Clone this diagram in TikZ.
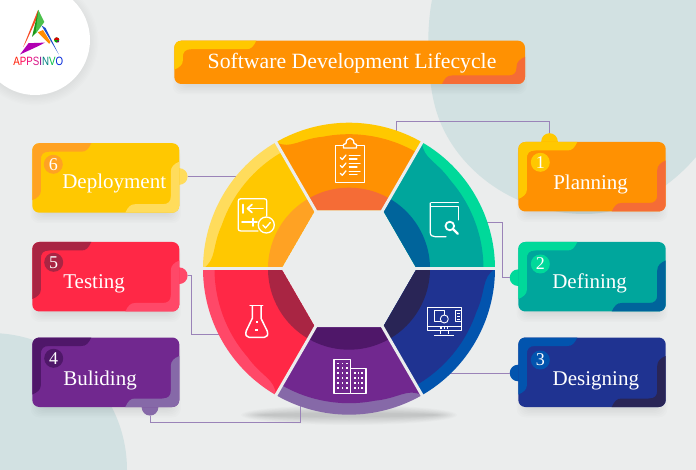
\documentclass[tikz,border=0pt]{standalone}
\usepackage{fontspec}
\setmainfont{Liberation Serif}
\newfontfamily\logofont{Liberation Sans}
\definecolor{bgc}{HTML}{EBEDED}
\definecolor{blobc}{HTML}{D2E1E2}
\definecolor{linkc}{HTML}{9A83B8}
\definecolor{orM}{HTML}{FF9102}\definecolor{orB}{HTML}{FFC800}\definecolor{orD}{HTML}{F56C36}
\definecolor{teM}{HTML}{00A69C}\definecolor{teB}{HTML}{00D99A}\definecolor{teD}{HTML}{00649B}
\definecolor{blM}{HTML}{1F3391}\definecolor{blB}{HTML}{0254AE}\definecolor{blD}{HTML}{292556}
\definecolor{puM}{HTML}{71288F}\definecolor{puB}{HTML}{8669A8}\definecolor{puD}{HTML}{4F1769}
\definecolor{reM}{HTML}{FF2846}\definecolor{reB}{HTML}{FF4868}\definecolor{reD}{HTML}{A92543}
\definecolor{yeM}{HTML}{FFC801}\definecolor{yeB}{HTML}{FFDC5C}\definecolor{yeD}{HTML}{FFA223}
\tikzset{
  link/.style={draw=linkc,line width=0.9pt},
  tabnode/.style={circle,inner sep=0pt,outer sep=0pt,minimum size=16.6pt},
  badge/.style={circle,inner sep=0pt,outer sep=0pt,minimum size=19pt,text=white,font=\fontsize{18}{18}\selectfont},
  cardtext/.style={anchor=base west,inner sep=0pt,outer sep=0pt,text=white,font=\fontsize{21}{21}\selectfont},
  cardbody/.style={anchor=north west,inner sep=0pt,outer sep=0pt,rounded corners=7pt},
  icon/.style={draw=white,line width=1.3pt,line join=round,line cap=round},
  iconthin/.style={draw=white,line width=0.9pt,line join=round},
}
\newcommand{\cardshadow}[5]{%
  \foreach \i in {0,...,7}{
    \fill[black,opacity=0.012,rounded corners=9pt] ({#2+8-\i*1.4},{#3+8-\i*0.4}) rectangle ({#2+#4-8+\i*1.4},{#3+#5+\i*1.5});
  }%
}
\newcommand{\cardface}[8]{%
  \node[cardbody,fill=#6,minimum width=#4pt,minimum height=#5pt] (#1) at (#2,#3) {};
  \begin{scope}[shift={(#2,#3)}]
    \clip[rounded corners=7pt] (0,0) rectangle (#4,#5);
    \fill[#7] (-1,-1) -- ({\tlw},-1) -- ({\tlw},0) .. controls ({\tlw-3},6) and ({\tlw-5},8.5) .. ({\tlw-10},8.5) -- (17,8.5)
      .. controls (11,8.5) and (8.5,11) .. (8.5,17) -- (8.5,{\tlh-9}) .. controls (8.5,{\tlh-5}) and (5,{\tlh-2}) .. (0,{\tlh}) -- (-1,{\tlh}) -- cycle;
    \fill[#8] (#4+1,{#5+1}) -- (#4+1,{#5-\brh}) -- (#4,{#5-\brh}) .. controls ({#4-5},{#5-\brh+2}) and ({#4-8.5},{#5-\brh+5}) .. ({#4-8.5},{#5-\brh+10})
      -- ({#4-8.5},{#5-16.5}) .. controls ({#4-8.5},{#5-11}) and ({#4-11},{#5-8.5}) .. ({#4-17},{#5-8.5})
      -- ({#4-\brw+10},{#5-8.5}) .. controls ({#4-\brw+5},{#5-8.5}) and ({#4-\brw+3},{#5-6}) .. ({#4-\brw},{#5}) -- ({#4-\brw},{#5+1}) -- cycle;
  \end{scope}%
}
\newcommand{\segment}[4]{%
  \begin{scope}[shift={(349,268.7)},y=1pt,rotate=#1]
    \begin{scope}
      \clip (60:67.7) -- (60:146) arc (60:120:146) -- (120:67.7) -- cycle;
      \fill[#3] (0,0) circle (147);
      \fill[#2] (120:67.7) -- (120:146) .. controls (116:132.5) and (111:139) .. (101:134.5) arc (101:60:134.5) -- (60:67.7) -- cycle;
      \fill[#4] (0,0) circle (81);
    \end{scope}
  \end{scope}%
}
\begin{document}
\begin{tikzpicture}[x=1pt,y=-1pt]
\useasboundingbox (0,0) rectangle (696,470);
\fill[bgc] (0,0) rectangle (696,470);
\begin{scope}
  \clip (0,0) rectangle (696,470);
  \fill[blobc] (432,0) .. controls (426,30) and (427,80) .. (436,110) .. controls (452,165) and (510,214) .. (585,214) .. controls (627,214) and (668,190) .. (696,157) -- (696,0) -- cycle;
  \fill[blobc] (-10,470) circle (137);
  \foreach \i in {0,...,6}{\fill[black,opacity=0.006] (35,42) circle ({55+\i*1.4});}
  \fill[white] (35,40) circle (55);
\end{scope}
% logo
\fill[orD!70!red] (37.8,10.5) -- (39.2,13.5) -- (26,42) -- (23.2,47) -- cycle;
\fill[green!55!black!90!white] (38.3,10) -- (41,17) -- (36,33) -- (32,37) -- cycle;
\fill[green!65!black!70!white] (38.3,10) -- (44.3,22) -- (35.5,34) -- cycle;
\fill[blue!55!teal!90!white] (41.5,25.5) -- (45.5,28) -- (58.8,54.5) -- cycle;
\fill[orange!90!yellow] (37.7,32.3) -- (43,30) -- (50.5,42) -- (49.2,43.8) -- cycle;
\fill[violet!60!magenta] (20,54.5) -- (28.5,43.2) -- (45,42.6) -- (37,46.7) -- cycle;
\fill[green!65!black] (56.7,40) circle (2.6);
\fill[red!85!black] (56.7,40) -- ++(-2.6,0) arc (180:360:2.6) -- cycle;
\fill[violet] (58,41.5) circle (1.2);
\node[inner sep=0pt,anchor=base,xscale=.81,transform shape,font=\logofont\fontsize{12}{12}\selectfont] (logotext) at (38.3,65.8)
  {\textcolor{red!80!orange}{A}\textcolor{red!70!magenta}{P}\textcolor{magenta!80!red}{P}\textcolor{magenta!80!violet}{S}\textcolor{violet}{I}\textcolor{teal}{N}\textcolor{green!50!teal}{V}\textcolor{blue!70!teal}{O}};

% shadows
\def\tlw{82}\def\tlh{29}\def\brw{83}\def\brh{27}
\cardshadow{title}{174.3}{40.7}{350.7}{43.3}
\cardshadow{planning}{518.3}{142}{147.4}{69.5}
\cardshadow{defining}{518.3}{242}{147.4}{69.5}
\cardshadow{designing}{518.3}{337.5}{147.4}{69.5}
\cardshadow{deployment}{32.3}{143.2}{147}{69.5}
\cardshadow{testing}{32.3}{242}{147}{69.5}
\cardshadow{buliding}{32.3}{337.5}{147}{69.5}
\foreach \i in {0,...,9}{\fill[black,opacity=0.015] (349,415) ellipse ({108-\i*2.2} and {10-\i*0.9});}

% tabs
\node[tabnode,fill=orB] (tab1) at (549.5,141.5) {};
\node[tabnode,fill=teB] (tab2) at (518,277.7) {};
\node[tabnode,fill=blB] (tab3) at (518,373) {};
\node[tabnode,fill=puB] (tab4) at (150,407.3) {};
\node[tabnode,fill=reB] (tab5) at (179.3,275.7) {};
\node[tabnode,fill=yeB] (tab6) at (179.3,176.5) {};

% connectors
\coordinate (k1) at (396,121.6); \coordinate (w1) at (396,135);
\coordinate (k2) at (502.7,222.7); \coordinate (w2) at (485,222.7);
\coordinate (w3) at (448,373);
\coordinate (k4) at (300.7,422.7); \coordinate (w4) at (300.7,400);
\coordinate (k5) at (191.3,334.3); \coordinate (w5) at (222,334.3);
\coordinate (w6) at (240,176.5);
\draw[link] (tab1) |- (k1) -- (w1);
\draw[link] (tab2) -| (k2) -- (w2);
\draw[link] (tab3) -- (w3);
\draw[link] (tab4) |- (k4) -- (w4);
\draw[link] (tab5) -| (k5) -- (w5);
\draw[link] (tab6) -- (w6);

% cards
\cardface{title}{174.3}{40.7}{350.7}{43.3}{orM}{orB}{orD}
\def\tlw{59}\def\tlh{57}\def\brw{54}\def\brh{51}
\cardface{planning}{518.3}{142}{147.4}{69.5}{orM}{orB}{orD}
\cardface{defining}{518.3}{242}{147.4}{69.5}{teM}{teB}{teD}
\cardface{designing}{518.3}{337.5}{147.4}{69.5}{blM}{blB}{blD}
\cardface{deployment}{32.3}{143.2}{147}{69.5}{yeM}{yeD}{yeB}
\cardface{testing}{32.3}{242}{147}{69.5}{reM}{reD}{reB}
\cardface{buliding}{32.3}{337.5}{147}{69.5}{puM}{puD}{puB}

\node[cardtext,font=\fontsize{21.75}{22}\selectfont] (titletext) at (207.7,68.3) {Software Development Lifecycle};
\node[cardtext] (t1) at (553.3,189.3) {Planning};
\node[cardtext] (t2) at (552.3,288.3) {Defining};
\node[cardtext] (t3) at (552.7,385.7) {Designing};
\node[cardtext] (t4) at (63.3,385) {Buliding};
\node[cardtext] (t5) at (63.3,288.7) {Testing};
\node[cardtext] (t6) at (62.3,188.3) {Deployment};
\node[badge,fill=orB] (b1) at (540.3,162.3) {1};
\node[badge,fill=teB] (b2) at (540.3,264) {2};
\node[badge,fill=blB] (b3) at (540.3,360) {3};
\node[badge,fill=puD] (b4) at (53.7,358.3) {4};
\node[badge,fill=reD] (b5) at (53.7,262.3) {5};
\node[badge,fill=yeD] (b6) at (53.3,164.3) {6};

% wheel
\segment{0}{orM}{orB}{orD}
\segment{-60}{teM}{teB}{teD}
\segment{-120}{blM}{blB}{blD}
\segment{-180}{puM}{puB}{puD}
\segment{-240}{reM}{reB}{reD}
\segment{-300}{yeM}{yeB}{yeD}
\begin{scope}[shift={(349,268.7)},y=1pt]
  \foreach \a in {0,60,...,300}{\draw[bgc,line width=3pt] (\a:66) -- (\a:147.5);}
\end{scope}

% clipboard icon
\draw[icon] (342.5,145.7) -- (335.7,145.7) -- (335.7,182.3) -- (364.3,182.3) -- (364.3,145.7) -- (356.5,145.7);
\draw[icon] (343.5,148) -- (343.5,144.5) -- (346,143.5) .. controls (346,136.5) and (354,136.5) .. (354,143.5) -- (356.5,144.5) -- (356.5,148) -- cycle;
\foreach \y in {157.5,165.5,173.3}{
  \draw[icon] (340.3,\y) -- (342.3,{\y+2}) -- (346,{\y-2.5});
  \draw[icon,line width=1.3pt] (349.3,{\y-2}) -- (360,{\y-2});
  \draw[icon,line width=1.1pt] (349.3,{\y+1.5}) -- (357,{\y+1.5});
}
% transfer icon
\draw[icon] (258,231) -- (241,231) .. controls (239,231) and (238.3,230.3) .. (238.3,229) -- (238.3,201) .. controls (238.3,199.5) and (239,198.7) .. (241,198.7) -- (264,198.7) .. controls (266,198.7) and (266.7,199.5) .. (266.7,201) -- (266.7,216);
\draw[icon] (266.3,225) circle (8);
\draw[icon] (262.8,225) -- (265.5,228) -- (270.3,222.5);
\draw[icon,line width=1.7pt] (243,204.5) -- (243,213);
\draw[icon,line width=1.7pt] (263,208.5) -- (248,208.5);
\draw[icon,line width=1.7pt] (252,204.5) -- (247.5,208.5) -- (252,212.5);
\draw[icon,line width=1.7pt] (242,222.3) -- (257,222.3);
\draw[icon,line width=1.7pt] (253.2,218.5) -- (253.2,226);
% book icon
\draw[icon,line width=1pt] (431,202.5) -- (458.3,202.5);
\draw[icon,line width=1pt] (430.5,206.5) -- (458.3,206.5) -- (458.3,220);
\draw[icon,line width=1.2pt] (430.2,203) -- (430.2,232) .. controls (430.2,235.5) and (432,236.7) .. (435,236.7) -- (446,236.7);
\draw[icon,line width=1.8pt] (449.8,226) circle (4.3);
\draw[icon,line width=2.2pt] (453.5,229.5) -- (457.8,233.8);
% monitor icon
\draw[iconthin] (427,307.5) rectangle (461.7,330);
\draw[iconthin] (426.5,326) -- (461.7,326);
\draw[iconthin] (440,330) -- (440,334); \draw[iconthin] (448.5,330) -- (448.5,334);
\draw[iconthin] (434,335) -- (454,335);
\draw[iconthin] (434.3,310) rectangle (444,321);
\draw[iconthin,fill=blM] (444.3,319) circle (4);
\draw[iconthin] (455,310) rectangle (461,321.5);
\foreach \y in {313,316,319}{\draw[white,line width=.8pt] (456.8,\y) -- (459.8,\y);}
\foreach \x in {441,444.3,447.5}{\fill[white] (\x-.7,327.3) rectangle (\x+.7,328.6);}
% flask icon
\draw[icon,line width=1.5pt] (250,305.7) -- (262.7,305.7);
\draw[icon,line width=1.5pt] (252.3,306) -- (252.3,318.3) -- (246.2,331) .. controls (245,335) and (246.5,337.3) .. (249,337.3) -- (264.5,337.3) .. controls (267,337.3) and (268.5,335) .. (267.2,331) -- (261,318.3) -- (261,306);
\fill[white] (255.7,320.8) rectangle (257.7,322.8);
\fill[white] (255.3,329) rectangle (257.9,331);
% buildings icon
\draw[icon,line cap=butt,line width=1.1pt] (334,393.3) -- (334,359.3) -- (350.7,359.3) -- (350.7,393.3) -- cycle;
\draw[icon,line cap=butt,line width=1.1pt] (350.7,368.7) -- (366,368.7) -- (366,393.3) -- (350.7,393.3);
\foreach \x in {337.3,341.5,345.7}{\foreach \y in {362.5,367.4,372.3,377.2,382.1,387}{\fill[white] (\x,\y) rectangle ++(1.9,1.9);}}
\foreach \x in {353.7,357.5,361.3}{\foreach \y in {372,377,382,387}{\fill[white] (\x,\y) rectangle ++(1.8,1.9);}}
\end{tikzpicture}
\end{document}
